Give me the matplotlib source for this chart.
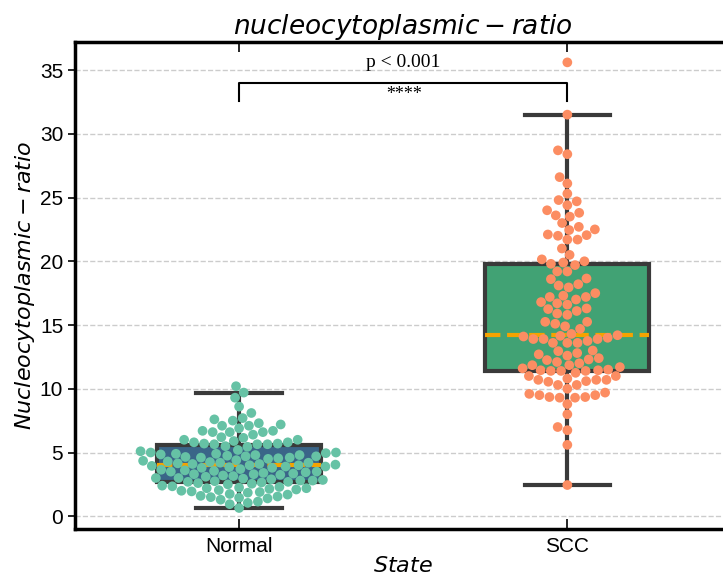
import matplotlib
matplotlib.use('Agg')
import matplotlib.pyplot as plt
import pandas as pd
import seaborn as sns

groups = ['Normal', 'SCC']

normal_vals = [
    10.2, 9.7, 9.3, 8.6, 8.1, 7.7, 7.6, 7.5, 7.3, 7.2, 7.1, 7.1, 6.9, 6.7, 6.7,
    6.6, 6.6, 6.6, 6.4, 6.2, 6.15, 6.0, 6.0, 5.9, 5.8, 5.8, 5.7, 5.7, 5.65, 5.65,
    5.65, 5.5, 5.45,
    5.2, 5.1, 5.0, 5.0, 4.95, 4.9, 4.9, 4.85, 4.8, 4.8, 4.75, 4.7, 4.7, 4.65,
    4.6, 4.6, 4.55, 4.5,
    4.4, 4.35, 4.3, 4.25, 4.2, 4.2, 4.15, 4.1, 4.1, 4.05, 4.0, 4.0, 3.95, 3.9,
    3.9, 3.85, 3.8, 3.8,
    3.7, 3.65, 3.6, 3.55, 3.5, 3.5, 3.45, 3.4, 3.35, 3.3, 3.3, 3.25, 3.2, 3.15,
    3.1, 3.0, 3.0, 2.95, 2.9, 2.85, 2.8, 2.8, 2.75, 2.7, 2.7, 2.65, 2.6, 2.55, 2.5,
    2.4, 2.35, 2.3, 2.25, 2.2, 2.2, 2.15, 2.1, 2.05, 2.0, 1.95, 1.9, 1.85,
    1.75, 1.7, 1.6, 1.55, 1.5, 1.45, 1.4, 1.3,
    1.15, 1.05, 0.95, 0.65,
]

scc_vals = [
    35.6, 31.5, 28.7, 28.4, 26.6, 26.1, 25.3, 24.8, 24.7, 24.4, 24.0, 23.8, 23.6,
    23.5, 23.0, 22.7, 22.5, 22.45, 22.1, 22.05, 22.0, 21.7, 21.7, 21.0, 20.5,
    20.15, 20.0, 19.9, 19.8, 19.7, 19.2, 19.2, 18.65, 18.6, 18.2, 18.1, 17.95,
    17.5, 17.3, 17.2, 17.2, 17.0, 16.8, 16.7, 16.6, 16.3, 16.25, 16.1, 15.9,
    15.8, 15.25, 15.25, 15.1, 14.9, 14.7, 14.3, 14.2, 14.15, 14.1, 14.0, 13.9,
    13.9, 13.9, 13.75, 13.6, 13.6, 13.6, 13.0, 12.95, 12.8, 12.7, 12.6, 12.4,
    12.3, 12.25, 12.1, 12.0, 11.85, 11.85, 11.7, 11.6, 11.5, 11.45, 11.45, 11.4,
    11.4, 11.4, 11.25, 11.0, 11.0, 10.8, 10.7, 10.7, 10.7, 10.6, 10.55, 10.3,
    10.3, 10.0, 9.7, 9.6, 9.5, 9.5, 9.35, 9.35, 9.3, 9.3, 8.8, 8.0, 7.0, 6.75,
    5.6, 2.45,
]

box_colors = ['#3a6588', '#41a274']
point_colors = ['#66c2a5', '#fc8d62']
y_ticks = [0, 5, 10, 15, 20, 25, 30, 35]

df = pd.DataFrame({
    'State': ['Normal'] * len(normal_vals) + ['SCC'] * len(scc_vals),
    'value': normal_vals + scc_vals,
})

plt.rcParams['mathtext.fontset'] = 'dejavusans'

fig = plt.figure(figsize=(7.23, 5.83), dpi=100)
# right edge of the axes sits just outside the picture, as in the reference
ax = fig.add_axes([0.1037, 0.0926, 0.908, 0.8354])

edge = '#3a3a3a'
bp = ax.boxplot(
    [normal_vals, scc_vals], positions=[0, 1], widths=0.5, patch_artist=True,
    showfliers=False, capwidths=0.26, zorder=2,
    boxprops=dict(edgecolor=edge, linewidth=3),
    whiskerprops=dict(color=edge, linewidth=3),
    capprops=dict(color=edge, linewidth=3),
    medianprops=dict(color='#f5a300', linewidth=3, linestyle='--'),
)
for patch, c in zip(bp['boxes'], box_colors):
    patch.set_facecolor(c)

sns.swarmplot(data=df, x='State', y='value', hue='State', order=groups,
              palette=point_colors, size=7.0, ax=ax, legend=False, zorder=3)

# significance bracket
ax.plot([0, 0, 1, 1], [32.6, 34.0, 34.0, 32.6], color='black', lw=1.5, zorder=4)
ax.text(0.5, 33.05, '****', ha='center', va='center', fontsize=13,
        family='Liberation Serif', style='italic')
ax.text(0.5, 35.6, 'p < 0.001', ha='center', va='center', fontsize=14,
        family='Liberation Serif')

ax.set_xlim(-0.5, 1.5)
ax.set_ylim(-1.0, 37.2)
ax.set_xticks([0, 1])
ax.set_xticklabels(groups, family='Liberation Sans', fontsize=15)
ax.set_yticks(y_ticks)
ax.set_yticklabels([str(t) for t in y_ticks], family='Liberation Sans', fontsize=15)

ax.yaxis.grid(True, linestyle='--', color='#cccccc', linewidth=1)
ax.set_axisbelow(True)

for s in ax.spines.values():
    s.set_linewidth(2.5)
    s.set_color('black')

ax.tick_params(axis='x', direction='in', top=True, length=7, width=1.2, pad=6)
ax.tick_params(axis='y', direction='out', length=5, width=1.2)

ax.set_title(r'$nucleocytoplasmic-ratio$', fontsize=19, pad=6)
ax.set_xlabel(r'$State$', fontsize=16, labelpad=0)
ax.set_ylabel(r'$Nucleocytoplasmic-ratio$', fontsize=16, labelpad=2)

plt.savefig('out.png', dpi=100)
plt.close()
